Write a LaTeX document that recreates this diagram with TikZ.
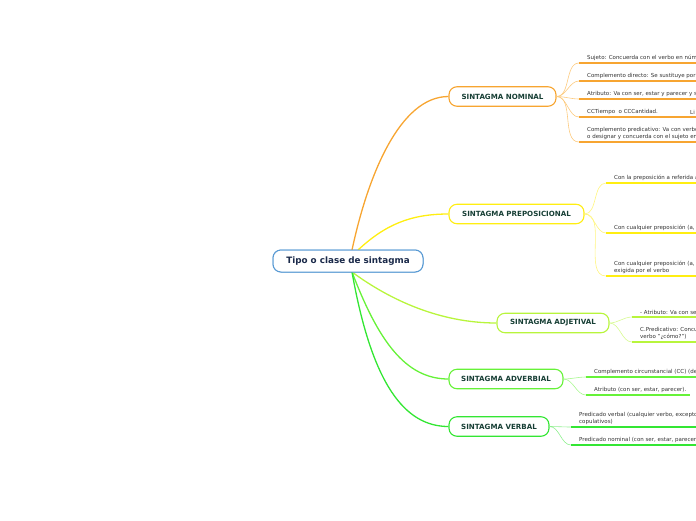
\documentclass[tikz,border=0pt]{standalone}
\usepackage{fontspec}
\setmainfont{DejaVu Sans}
\definecolor{cRoot}{HTML}{5A9BD4}
\definecolor{cRootTxt}{HTML}{1B2A4A}
\definecolor{cTxt}{HTML}{173F35}
\definecolor{cLeaf}{HTML}{333333}
\definecolor{cOr}{HTML}{F7A531}
\definecolor{cOrL}{HTML}{FCCB80}
\definecolor{cYe}{HTML}{FFEE11}
\definecolor{cYeL}{HTML}{FFF580}
\definecolor{cAj}{HTML}{B8F53C}
\definecolor{cAjL}{HTML}{D6FA90}
\definecolor{cAv}{HTML}{66F238}
\definecolor{cAvL}{HTML}{A8F890}
\definecolor{cVe}{HTML}{33E633}
\definecolor{cVeL}{HTML}{90F090}
\tikzset{
  rootbox/.style={draw=cRoot, line width=1pt, fill=white, rounded corners=8pt,
    minimum width=150pt, minimum height=22pt, inner sep=0pt,
    font=\fontsize{8.8}{10}\selectfont\bfseries, text=cRootTxt},
  branchbox/.style={draw=#1, line width=1.1pt, fill=white, rounded corners=8pt,
    minimum height=19.5pt, inner sep=0pt,
    font=\fontsize{7.1}{8}\selectfont\bfseries, text=cTxt},
  leaftext/.style={anchor=south west, inner sep=0pt, align=left,
    font=\fontsize{5.5}{7}\selectfont, text=cLeaf},
  mainlink/.style={draw=#1, line width=1.3pt},
  leaflink/.style={draw=#1, line width=0.6pt},
  underline/.style={draw=#1, line width=1.2pt},
}
\begin{document}
\begin{tikzpicture}[x=1pt,y=-1pt]
\useasboundingbox (0,0) rectangle (696,520);
\begin{scope}
\clip (0,0) rectangle (696,520);
% root and branches
\node[rootbox] (root) at (348,261) {Tipo o clase de sintagma};
\node[branchbox=cOr, minimum width=107pt] (nom) at (502.5,96.5) {SINTAGMA NOMINAL};
\node[branchbox=cYe, minimum width=135pt] (pre) at (516.5,214) {SINTAGMA PREPOSICIONAL};
\node[branchbox=cAj, minimum width=112pt] (adj) at (553,323) {SINTAGMA ADJETIVAL};
\node[branchbox=cAv, minimum width=114pt] (adv) at (506,379) {SINTAGMA ADVERBIAL};
\node[branchbox=cVe, minimum width=100pt] (ver) at (499,426.5) {SINTAGMA VERBAL};

\coordinate (rt1) at (352,250);
\coordinate (rt2) at (358,250);
\coordinate (rb1) at (352,272);
\draw[mainlink=cOr] (rt1) .. controls (368,175) and (400,96.5) .. (nom.west);
\draw[mainlink=cYe] (rt2) .. controls (385,225) and (410,214) .. (pre.west);
\draw[mainlink=cAj] (rb1) .. controls (390,300) and (440,323) .. (adj.west);
\draw[mainlink=cAv] (rb1) .. controls (378,340) and (405,379) .. (adv.west);
\draw[mainlink=cVe] (rb1) .. controls (372,385) and (405,426.5) .. (ver.west);
\node[rootbox] at (root) {Tipo o clase de sintagma};

% NOMINAL leaves
\foreach \n/\y in {1/63,2/81,3/99,4/117,5/142}{
  \coordinate (ns\n) at (579,\y);
  \coordinate (ne\n) at (700,\y);
  \draw[leaflink=cOrL] (nom.east) to[out=0,in=180,looseness=0.9] (ns\n);
  \draw[underline=cOr] (ns\n) -- (ne\n);
}
\node[leaftext] (n1) at (587,61) {Sujeto: Concuerda con el verbo en núm};
\node[leaftext] (n2) at (587,79) {Complemento directo: Se sustituye por};
\node[leaftext] (n3) at (587,97) {Atributo: Va con ser, estar y parecer y s};
\node[leaftext] (n4) at (587,115) {CCTiempo\ \ o CCCantidad.};
\node[leaftext] (n4b) at (690,115) {Li};
\node[leaftext] (n5) at (587,140) {Complemento predicativo: Va con verbo\\o designar y concuerda con el sujeto en};

% PREPOSICIONAL leaves
\foreach \n/\y in {1/183,2/233,3/276}{
  \coordinate (ps\n) at (606,\y);
  \coordinate (pe\n) at (700,\y);
  \draw[leaflink=cYeL] (pre.east) to[out=0,in=180,looseness=0.9] (ps\n);
  \draw[underline=cYe] (ps\n) -- (pe\n);
}
\node[leaftext] (p1) at (614,181) {Con la preposición a referida a};
\node[leaftext] (p2) at (614,231) {Con cualquier preposición (a,};
\node[leaftext] (p3) at (614,274) {Con cualquier preposición (a,\\exigida por el verbo};

% ADJETIVAL leaves
\foreach \n/\y in {1/317,2/342}{
  \coordinate (js\n) at (632,\y);
  \coordinate (je\n) at (700,\y);
  \draw[leaflink=cAjL] (adj.east) to[out=0,in=180,looseness=0.9] (js\n);
  \draw[underline=cAj] (js\n) -- (je\n);
}
\node[leaftext] (j1) at (640,315) {- Atributo: Va con se};
\node[leaftext] (j2) at (640,340) {C.Predicativo: Concu\\verbo "¿cómo?")};

% ADVERBIAL leaves
\coordinate (vs1) at (586,377); \coordinate (ve1) at (700,377);
\coordinate (vs2) at (586,395); \coordinate (ve2) at (690,395);
\draw[leaflink=cAvL] (adv.east) to[out=0,in=180,looseness=0.9] (vs1);
\draw[leaflink=cAvL] (adv.east) to[out=0,in=180,looseness=0.9] (vs2);
\draw[underline=cAv] (vs1) -- (ve1);
\draw[underline=cAv] (vs2) -- (ve2);
\node[leaftext] (v1) at (594,375) {Complemento circunstancial (CC) (de};
\node[leaftext] (v2) at (594,393) {Atributo (con ser, estar, parecer).};

% VERBAL leaves
\coordinate (rs1) at (571,427); \coordinate (re1) at (700,427);
\coordinate (rs2) at (571,445); \coordinate (re2) at (700,445);
\draw[leaflink=cVeL] (ver.east) to[out=0,in=180,looseness=0.9] (rs1);
\draw[leaflink=cVeL] (ver.east) to[out=0,in=180,looseness=0.9] (rs2);
\draw[underline=cVe] (rs1) -- (re1);
\draw[underline=cVe] (rs2) -- (re2);
\node[leaftext] (r1) at (579,425) {Predicado verbal (cualquier verbo, excepto\\copulativos)};
\node[leaftext] (r2) at (579,443) {Predicado nominal (con ser, estar, parecer};
\end{scope}
\end{tikzpicture}
\end{document}
